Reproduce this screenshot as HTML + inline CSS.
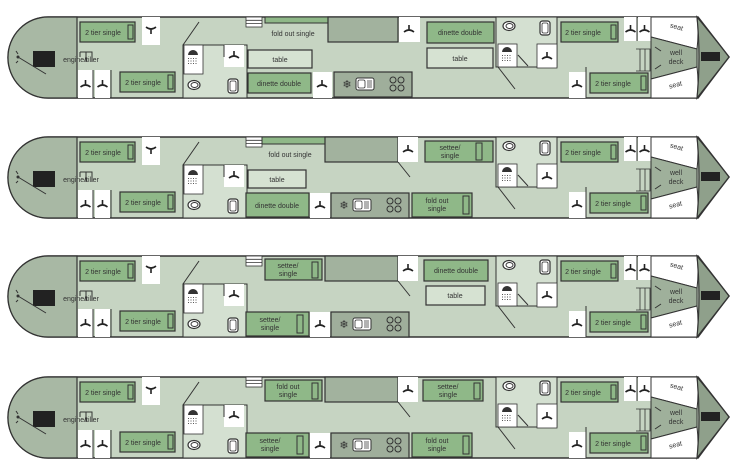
<!DOCTYPE html>
<html><head><meta charset="utf-8"><style>
html,body{margin:0;padding:0;background:#fff;width:736px;height:472px;overflow:hidden}
svg{display:block}
text{font-family:"Liberation Sans",sans-serif;fill:#333;font-size:7px;text-anchor:middle}
</style></head><body>
<svg width="736" height="472" viewBox="0 0 736 472" xmlns="http://www.w3.org/2000/svg">
<defs>
<g id="hg"><path d="M-5,3 Q0,-1 5,3 M0,-4 L0,1" stroke="#222" stroke-width="1.6" fill="none"/></g>
<g id="sh"><path d="M-5,-2 A5,5 0 0 1 5,-2 Z" fill="#333"/><g fill="#555"><rect x="-5" y="1" width="1" height="1"/><rect x="-2.5" y="1" width="1" height="1"/><rect x="0" y="1" width="1" height="1"/><rect x="2.5" y="1" width="1" height="1"/><rect x="-5" y="3.5" width="1" height="1"/><rect x="-2.5" y="3.5" width="1" height="1"/><rect x="0" y="3.5" width="1" height="1"/><rect x="2.5" y="3.5" width="1" height="1"/><rect x="-5" y="6" width="1" height="1"/><rect x="-2.5" y="6" width="1" height="1"/><rect x="0" y="6" width="1" height="1"/><rect x="2.5" y="6" width="1" height="1"/></g></g>
<g id="wc"><ellipse cx="0" cy="0" rx="6" ry="4.5" fill="#fff" stroke="#333" stroke-width="1.2"/><ellipse cx="0.5" cy="0" rx="3.5" ry="2.5" fill="#fff" stroke="#333" stroke-width="1"/></g>
<g id="sk"><rect x="-5" y="-7" width="10" height="14" rx="2.5" fill="#fff" stroke="#333" stroke-width="1.2"/><rect x="-3" y="-5" width="6" height="10" rx="1.5" fill="#fff" stroke="#333" stroke-width="0.8"/></g>
<g id="kit"><rect x="0" y="0" width="78" height="25" fill="#9fae9b" stroke="#333" stroke-width="1.2"/>
<text x="13" y="16" font-size="11" style="font-size:11px">❄</text>
<rect x="22" y="6" width="18" height="12" rx="2" fill="#fff" stroke="#333"/><rect x="24" y="8" width="7" height="8" rx="1.5" fill="#fff" stroke="#333" stroke-width=".8"/><path d="M33,9 h5 M33,11 h5 M33,13 h5 M33,15 h5" stroke="#333" stroke-width=".7"/>
<g fill="none" stroke="#333" stroke-width="1"><circle cx="59" cy="8" r="3"/><circle cx="67" cy="8" r="3"/><circle cx="59" cy="16" r="3"/><circle cx="67" cy="16" r="3"/></g></g>
<g id="common">
<path d="M48,0 L698,0 Q712,18 729,40 Q712,62 698,81 L48,81 A40,40.5 0 0 1 48,0 Z" fill="#c6d4c2" stroke="#333" stroke-width="1.5"/>
<path d="M77,0 L48,0 A40,40.5 0 0 0 48,81 L77,81 Z" fill="#a8b8a4" stroke="#333" stroke-width="1.2"/>
<rect x="33" y="34" width="22" height="16" fill="#222"/>
<path d="M18,40 L46,57 M16,34 l2,3 M16,46 l2,-2" stroke="#333" stroke-width="1"/><circle cx="18" cy="40" r="1.5" fill="#333"/>
<path d="M80,25 v-1 M80,35 h12 v10 M86,35 v10 M80,35 v5" stroke="#333" stroke-width="1" fill="none"/>
<text x="81" y="45">engine/tiller</text>
<rect x="78" y="53" width="15" height="28" fill="#fff"/><rect x="95" y="53" width="15" height="28" fill="#fff"/>
<use href="#hg" x="85.5" y="67"/><use href="#hg" x="102.5" y="67"/>
<line x1="93" y1="53" x2="93" y2="81" stroke="#333"/><line x1="111" y1="53" x2="111" y2="81" stroke="#333"/>
<rect x="80" y="5" width="55" height="20" fill="#8fb888" stroke="#333" stroke-width="1.2"/><rect x="128" y="8" width="5" height="14" fill="none" stroke="#333"/>
<text x="103" y="18">2 tier single</text>
<rect x="142" y="0" width="18" height="28" fill="#fff"/><use href="#hg" x="151" y="13" transform="rotate(180 151 13)"/>
<rect x="120" y="55" width="55" height="20" fill="#8fb888" stroke="#333" stroke-width="1.2"/><rect x="168" y="58" width="5" height="14" fill="none" stroke="#333"/>
<text x="143" y="68">2 tier single</text>
<rect x="183" y="28" width="64" height="53" fill="#d4e0d1" stroke="#333" stroke-width="1"/>
<rect x="184" y="28" width="19" height="29" fill="#fff" stroke="#333" stroke-width=".8"/><use href="#sh" x="193" y="40"/>
<rect x="224" y="28" width="20" height="22" fill="#fff"/><use href="#hg" x="234" y="38"/>
<use href="#wc" x="194" y="68"/><use href="#sk" x="233" y="69"/>
<path d="M183,28 L199,5 M224,40 v-12" stroke="#333" stroke-width="1"/>
<rect x="246" y="0" width="16" height="10" fill="#fff" stroke="#333" stroke-width=".8"/><path d="M246,3.3 h16 M246,6.6 h16" stroke="#333" stroke-width=".8"/>
<rect x="496" y="0" width="61" height="50" fill="#d4e0d1" stroke="#333" stroke-width="1"/>
<use href="#wc" x="509" y="9"/><use href="#sk" x="545" y="11"/>
<rect x="498" y="27" width="19" height="23" fill="#fff" stroke="#333" stroke-width=".8"/><use href="#sh" x="507" y="37"/>
<rect x="537" y="27" width="20" height="24" fill="#fff" stroke="#333" stroke-width=".8"/><use href="#hg" x="547" y="39"/>
<path d="M498,50 L515,72 M528,49 L518,38" stroke="#333" stroke-width="1"/>
<rect x="561" y="5" width="57" height="20" fill="#8fb888" stroke="#333" stroke-width="1.2"/><rect x="611" y="8" width="5" height="14" fill="none" stroke="#333"/>
<text x="583" y="18">2 tier single</text>
<rect x="624" y="0" width="13" height="24" fill="#fff"/><rect x="638" y="0" width="13" height="24" fill="#fff"/>
<use href="#hg" x="630.5" y="12"/><use href="#hg" x="644.5" y="12"/>
<path d="M637,0 v24 M651,0 v81" stroke="#333" stroke-width="1"/>
<path d="M636,32 h14 v22 h-14 M640,32 v22 M645,32 v22" stroke="#333" stroke-width=".8" fill="none"/>
<rect x="569" y="55" width="17" height="26" fill="#fff"/><use href="#hg" x="577" y="67"/><path d="M586,50 v31" stroke="#333"/>
<rect x="590" y="56" width="58" height="20" fill="#8fb888" stroke="#333" stroke-width="1.2"/><rect x="641" y="59" width="5" height="14" fill="none" stroke="#333"/>
<text x="613" y="69">2 tier single</text>
<path d="M651,0 L697,0 Q699,16 697,32 L651,20 Z" fill="#fff" stroke="#333" stroke-width="1"/>
<path d="M651,20 L697,32 L697,50 L651,62 Z" fill="#9fb09b" stroke="#333" stroke-width="1"/>
<path d="M651,62 L697,50 Q699,66 697,81 L651,81 Z" fill="#fff" stroke="#333" stroke-width="1"/>
<path d="M697,0 Q712,18 729,40 Q712,62 697,81 Q701,40 697,0 Z" fill="#8fa08b" stroke="#333" stroke-width="1.2"/>
<rect x="701" y="35" width="19" height="9" fill="#222"/>
<path d="M655,30 l6,4 M655,52 l6,-4" stroke="#333"/>
<text x="676" y="12" transform="rotate(15 676 12)">seat</text>
<text x="676" y="38">well</text><text x="676" y="47">deck</text>
<text x="676" y="70" transform="rotate(-15 676 70)">seat</text>
</g>
</defs>

<!-- Boat 1 -->
<g transform="translate(0,17)">
<use href="#common"/>
<rect x="265" y="0" width="63" height="6" fill="#8fb888" stroke="#333"/>
<text x="293" y="19">fold out single</text>
<rect x="328" y="0" width="70" height="25" fill="#a2b29e" stroke="#333" stroke-width="1.2"/>
<rect x="399" y="0" width="21" height="25" fill="#fff"/><use href="#hg" x="409" y="12"/>
<rect x="248" y="33" width="64" height="18" fill="#d6e2d2" stroke="#333" stroke-width="1.2"/><text x="280" y="45">table</text>
<rect x="248" y="56" width="63" height="20" fill="#8fb888" stroke="#333" stroke-width="1.2"/><text x="279" y="69">dinette double</text>
<rect x="313" y="55" width="19" height="26" fill="#fff"/><use href="#hg" x="322" y="67"/>
<use href="#kit" x="334" y="55"/>
<rect x="427" y="5" width="67" height="21" fill="#8fb888" stroke="#333" stroke-width="1.2"/><text x="460" y="18">dinette double</text>
<rect x="427" y="31" width="66" height="20" fill="#d6e2d2" stroke="#333" stroke-width="1.2"/><text x="460" y="44">table</text>
</g>

<!-- Boat 2 -->
<g transform="translate(0,137)">
<use href="#common"/>
<rect x="262" y="0" width="63" height="7" fill="#8fb888" stroke="#333"/>
<text x="290" y="20">fold out single</text>
<rect x="325" y="0" width="73" height="25" fill="#a2b29e" stroke="#333" stroke-width="1.2"/>
<rect x="398" y="0" width="20" height="25" fill="#fff"/><use href="#hg" x="408" y="12"/>
<path d="M398,25 L410,40" stroke="#333"/>
<rect x="425" y="4" width="68" height="21" fill="#8fb888" stroke="#333" stroke-width="1.2"/><rect x="476" y="6" width="6" height="17" fill="none" stroke="#333"/><text x="450" y="13">settee/</text><text x="450" y="21">single</text>
<rect x="248" y="33" width="58" height="18" fill="#d6e2d2" stroke="#333" stroke-width="1.2"/><text x="277" y="45">table</text>
<rect x="246" y="56" width="63" height="24" fill="#8fb888" stroke="#333" stroke-width="1.2"/><text x="277" y="71">dinette double</text>
<rect x="310" y="56" width="20" height="25" fill="#fff"/><use href="#hg" x="320" y="68"/>
<use href="#kit" x="331" y="56"/>
<rect x="412" y="56" width="60" height="24" fill="#8fb888" stroke="#333" stroke-width="1.2"/><rect x="463" y="59" width="6" height="18" fill="none" stroke="#333"/><text x="437" y="66">fold out</text><text x="437" y="74">single</text>
</g>

<!-- Boat 3 -->
<g transform="translate(0,256)">
<use href="#common"/>
<rect x="265" y="3" width="57" height="21" fill="#8fb888" stroke="#333" stroke-width="1.2"/><rect x="312" y="6" width="6" height="16" fill="none" stroke="#333"/><text x="288" y="12">settee/</text><text x="288" y="20">single</text>
<rect x="325" y="0" width="73" height="25" fill="#a2b29e" stroke="#333" stroke-width="1.2"/>
<rect x="398" y="0" width="20" height="25" fill="#fff"/><use href="#hg" x="408" y="12"/>
<path d="M398,25 L410,40" stroke="#333"/>
<rect x="424" y="4" width="64" height="21" fill="#8fb888" stroke="#333" stroke-width="1.2"/><text x="456" y="17">dinette double</text>
<rect x="426" y="30" width="59" height="19" fill="#d6e2d2" stroke="#333" stroke-width="1.2"/><text x="455" y="42">table</text>
<rect x="246" y="56" width="63" height="24" fill="#8fb888" stroke="#333" stroke-width="1.2"/><rect x="297" y="59" width="6" height="18" fill="none" stroke="#333"/><text x="270" y="66">settee/</text><text x="270" y="74">single</text>
<rect x="310" y="56" width="20" height="25" fill="#fff"/><use href="#hg" x="320" y="68"/>
<use href="#kit" x="331" y="56"/>
</g>

<!-- Boat 4 -->
<g transform="translate(0,377)">
<use href="#common"/>
<rect x="265" y="3" width="57" height="21" fill="#8fb888" stroke="#333" stroke-width="1.2"/><rect x="312" y="6" width="6" height="16" fill="none" stroke="#333"/><text x="288" y="12">fold out</text><text x="288" y="20">single</text>
<rect x="325" y="0" width="73" height="25" fill="#a2b29e" stroke="#333" stroke-width="1.2"/>
<rect x="398" y="0" width="20" height="25" fill="#fff"/><use href="#hg" x="408" y="12"/>
<path d="M398,25 L410,40" stroke="#333"/>
<rect x="423" y="3" width="60" height="21" fill="#8fb888" stroke="#333" stroke-width="1.2"/><rect x="474" y="6" width="6" height="16" fill="none" stroke="#333"/><text x="448" y="12">settee/</text><text x="448" y="20">single</text>
<rect x="246" y="56" width="63" height="24" fill="#8fb888" stroke="#333" stroke-width="1.2"/><rect x="297" y="59" width="6" height="18" fill="none" stroke="#333"/><text x="270" y="66">settee/</text><text x="270" y="74">single</text>
<rect x="310" y="56" width="20" height="25" fill="#fff"/><use href="#hg" x="320" y="68"/>
<use href="#kit" x="331" y="56"/>
<rect x="412" y="56" width="60" height="24" fill="#8fb888" stroke="#333" stroke-width="1.2"/><rect x="463" y="59" width="6" height="18" fill="none" stroke="#333"/><text x="437" y="66">fold out</text><text x="437" y="74">single</text>
</g>
</svg>
</body></html>
